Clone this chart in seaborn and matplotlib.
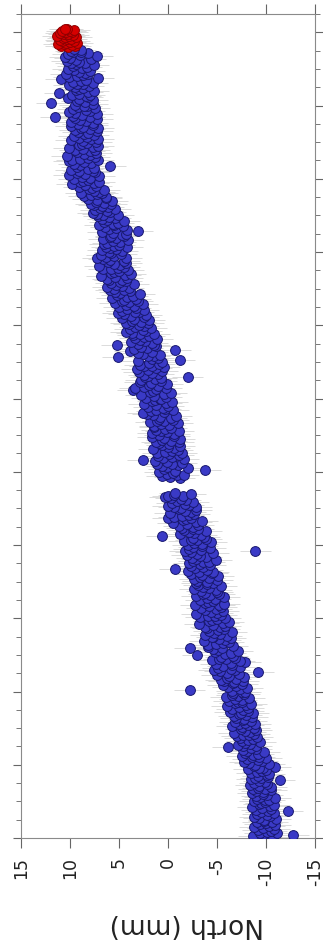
import numpy as np
import pandas as pd
import matplotlib
matplotlib.use("Agg")
import matplotlib.pyplot as plt
from matplotlib.ticker import MultipleLocator, NullFormatter
import seaborn as sns

# North component (mm); one list per time unit, 80 samples per unit
north_u0 = [-9.6, -10.7, -8.7, -12.8, -9.8, -11.1, -9.4, -10.1, -10.5, -9.2,
            -10.8, -9.7, -8.8, -10.3, -10.9, -9.4, -10.0, -9.1, -10.6, -9.8,
            -9.8, -11.0, -9.3, -8.8, -10.4, -10.1, -9.1, -10.8, -9.5, -10.2,
            -12.2, -9.0, -10.5, -9.6, -8.6, -10.4, -10.8, -9.3, -9.5, -9.9,
            -8.8, -9.9, -10.3, -9.1, -10.9, -9.4, -9.0, -10.1, -9.7, -8.6,
            -9.7, -9.0, -10.5, -8.7, -9.9, -9.2, -10.5, -9.3, -8.4, -10.1,
            -8.8, -9.9, -9.3, -11.4, -8.5, -9.5, -8.9, -10.2, -9.2, -10.1,
            -10.3, -8.5, -9.1, -9.6, -10.0, -8.2, -9.7, -9.3, -10.9, -8.8]
north_u1 = [-8.9, -10.3, -8.3, -7.8, -9.6, -9.2, -8.1, -10.0, -8.6, -9.3,
            -7.5, -8.7, -9.2, -7.9, -9.8, -8.1, -7.7, -9.0, -8.5, -6.1,
            -7.7, -9.0, -7.1, -8.4, -7.9, -9.4, -7.5, -8.2, -8.7, -7.3,
            -9.1, -7.0, -7.7, -8.3, -8.8, -6.7, -8.4, -7.9, -9.0, -7.4,
            -8.8, -7.6, -6.5, -8.2, -8.9, -7.2, -7.9, -6.8, -8.5, -7.7,
            -7.8, -6.9, -8.6, -6.7, -8.0, -7.2, -8.7, -7.4, -6.3, -8.2,
            -7.7, -6.5, -8.2, -7.2, -6.0, -8.0, -8.5, -6.8, -7.1, -7.5,
            -6.2, -7.5, -6.8, -8.3, -5.9, -7.1, -6.5, -7.8, -6.6, -7.6]
north_u2 = [-7.9, -6.5, -2.2, -7.3, -8.1, -6.1, -6.9, -5.6, -7.6, -6.6,
            -6.7, -5.7, -7.7, -5.4, -6.9, -6.0, -7.8, -6.2, -5.0, -7.2,
            -6.0, -9.2, -5.3, -4.7, -6.8, -6.4, -5.1, -7.3, -5.6, -6.5,
            -4.9, -6.4, -7.9, -7.3, -4.5, -5.9, -5.2, -6.8, -5.4, -6.6,
            -3.0, -5.8, -6.4, -4.8, -7.1, -5.1, -4.6, -2.2, -5.5, -4.1,
            -6.6, -4.1, -4.9, -5.6, -6.2, -3.7, -5.8, -5.2, -6.4, -4.6,
            -4.5, -6.0, -3.8, -5.3, -4.7, -6.5, -4.2, -5.1, -5.7, -4.0,
            -5.3, -3.8, -5.8, -4.6, -3.2, -5.6, -6.2, -4.2, -4.5, -5.0]
north_u3 = [-5.8, -3.3, -4.1, -4.8, -5.4, -2.9, -5.0, -4.4, -5.6, -3.8,
            -4.9, -3.4, -5.4, -4.2, -2.8, -5.2, -5.7, -3.8, -4.1, -4.6,
            -3.3, -4.8, -4.0, -5.7, -2.9, -4.3, -3.6, -5.2, -3.8, -5.0,
            -3.4, -4.9, -2.7, -4.2, -3.6, -5.4, -3.1, -4.0, -4.6, -2.9,
            -4.0, -3.0, -5.0, -2.7, -4.2, -3.3, -5.1, -3.5, -2.3, -4.5,
            -4.6, -3.2, -2.0, -4.0, -0.7, -2.8, -3.6, -2.3, -4.3, -3.3,
            -2.1, -3.6, -4.2, -2.6, -4.9, -2.9, -2.4, -3.9, -3.3, -1.9,
            -3.0, -4.6, -2.3, -1.7, -8.9, -3.4, -2.1, -4.3, -2.6, -3.5]
north_u4 = [-2.0, -3.5, -2.7, -4.4, -1.6, -3.0, -2.3, -3.9, -2.5, -3.7,
            0.6, -3.4, -1.2, -2.7, -2.1, -3.9, -1.6, -2.5, -3.1, -1.4,
            -2.6, -1.1, -3.1, -1.9, -0.5, -2.9, -3.5, -1.5, -1.8, -2.3,
            0.0, -0.6, -1.4, -2.1, -2.7, -0.2, -2.3, -1.7, -2.9, -1.1,
            -1.3, -2.9, -0.6, 0.0, -2.1, -1.7, -0.4, -2.6, -0.9, -1.8,
            -1.3, -0.3, 0.3, 0.0, -1.5, -0.6, -2.3, -0.7, np.nan, np.nan,
            np.nan, np.nan, np.nan, np.nan, np.nan, np.nan, np.nan, np.nan,
            np.nan, np.nan, np.nan, np.nan, np.nan,
            -1.2, -0.2, 0.6, -0.9, -1.6, 0.1, -0.5]
north_u5 = [0.9, -0.7, -3.8, 0.4, -2.0, 0.1, 0.6, -1.0, -0.4, 1.1,
            -1.4, 0.1, 1.3, 2.6, -1.6, 0.5, -0.4, 1.0, -1.1, -0.1,
            -1.4, 1.1, 0.3, -0.4, -1.0, 1.5, -0.6, 0.0, -1.2, 0.6,
            -0.1, 0.9, -1.1, 1.2, -0.3, 0.6, -1.2, 0.4, 1.6, -0.6,
            0.9, -0.6, 1.6, 0.1, 0.7, -1.1, 1.2, 0.3, -0.3, 1.4,
            1.4, -0.1, 0.7, -1.0, 1.8, 0.4, 1.1, -0.5, 0.9, -0.3,
            0.8, -0.8, 1.5, 2.1, 2.6, 0.4, 1.7, -0.5, 1.2, 0.3,
            0.5, 2.0, 0.0, 1.2, 2.5, 0.2, -0.4, 1.6, 1.3, 0.8]
north_u6 = [0.7, 2.2, 0.2, 1.4, 2.8, 0.4, -0.3, 1.8, 1.5, 3.6,
            1.2, 3.4, 0.2, 2.5, 1.0, 1.9, 0.1, 1.7, 2.9, 0.7,
            2.8, 1.3, 0.7, 2.3, -2.0, 2.0, 2.5, 1.0, 1.6, 3.0,
            0.6, 2.0, 3.2, 1.2, 0.4, 2.4, 1.6, 2.9, 0.9, 1.9,
            0.6, 3.1, -1.2, 1.6, 1.0, 5.1, 1.4, 2.0, 0.8, 2.6,
            3.1, 1.6, 3.9, -0.7, 3.5, 2.1, 2.8, 1.2, 5.2, 1.4,
            3.1, 1.6, 3.8, 2.3, 2.9, 1.1, 3.4, 2.5, 1.9, 3.6,
            2.9, 1.4, 3.7, 4.3, 2.2, 2.6, 3.9, 1.7, 3.4, 2.5]
north_u7 = [3.0, 4.0, 2.0, 4.3, 2.8, 3.7, 1.9, 3.5, 4.7, 2.5,
            3.8, 2.2, 4.5, 5.1, 3.0, 3.4, 4.7, 2.5, 4.2, 3.3,
            5.0, 3.5, 4.3, 2.6, 5.4, 4.0, 4.7, 3.1, 4.5, 3.3,
            5.7, 4.2, 3.6, 5.2, 2.9, 4.9, 5.4, 3.9, 4.5, 5.9,
            5.5, 4.0, 6.2, 4.7, 5.3, 3.5, 5.8, 4.9, 4.3, 6.0,
            4.7, 6.2, 4.2, 5.4, 6.8, 4.4, 3.8, 5.8, 5.5, 5.0,
            4.1, 6.6, 5.8, 5.1, 4.5, 7.0, 4.9, 5.5, 4.3, 6.1,
            4.5, 5.9, 6.6, 7.2, 4.3, 6.3, 5.5, 6.8, 4.8, 5.8]
north_u8 = [6.0, 4.7, 6.7, 5.3, 5.9, 4.2, 6.3, 5.5, 5.0, 6.5,
            6.2, 4.9, 5.6, 4.1, 6.6, 5.3, 5.9, 4.5, 5.8, 4.7,
            4.3, 5.6, 6.7, 3.1, 4.2, 6.0, 5.3, 6.4, 4.6, 5.5,
            7.0, 5.6, 5.1, 6.5, 4.5, 6.2, 6.7, 5.4, 6.0, 7.1,
            6.6, 5.1, 7.2, 7.7, 5.9, 6.2, 7.4, 5.4, 6.9, 6.1,
            6.7, 7.6, 5.8, 7.9, 6.5, 7.3, 5.7, 7.2, 8.2, 6.3,
            6.3, 8.6, 7.9, 7.2, 6.7, 8.9, 7.0, 7.6, 6.5, 8.1,
            7.8, 9.1, 7.3, 8.5, 9.8, 7.6, 7.0, 9.0, 8.7, 8.2]
north_u9 = [9.6, 8.0, 8.8, 7.0, 10.1, 8.5, 9.3, 7.5, 9.1, 7.7,
            9.9, 8.2, 7.6, 9.3, 5.9, 9.0, 9.6, 7.9, 8.6, 10.1,
            7.1, 9.8, 9.0, 8.2, 7.5, 10.3, 8.0, 8.6, 7.3, 9.3,
            8.0, 9.5, 7.5, 8.7, 10.1, 7.7, 7.1, 9.1, 8.8, 8.3,
            7.3, 8.7, 9.9, 7.9, 7.1, 9.1, 8.3, 9.6, 7.6, 8.6,
            8.2, 9.2, 7.2, 9.5, 8.0, 8.9, 7.1, 8.7, 9.9, 7.7,
            9.2, 7.7, 9.9, 8.4, 9.0, 7.2, 9.5, 11.5, 8.0, 9.7,
            8.8, 7.2, 9.5, 10.1, 8.0, 8.4, 9.7, 7.5, 9.2, 8.3]
north_u10 = [8.6, 9.5, 7.7, 11.9, 8.5, 9.3, 7.7, 9.1, 10.2, 8.2,
             8.4, 9.8, 8.0, 9.1, 11.1, 8.2, 7.6, 9.4, 9.1, 8.7,
             9.5, 8.1, 10.1, 8.7, 9.3, 7.7, 9.7, 8.9, 8.4, 10.9,
             7.1, 10.1, 9.3, 8.7, 8.2, 10.4, 8.5, 9.1, 8.0, 9.6,
             10.2, 8.8, 8.3, 9.7, 7.6, 9.4, 9.9, 8.5, 9.1, 10.3,
             9.4, 7.9, 10.0, 10.5, 7.2, 9.0, 10.2, 8.2, 9.7, 8.9,
             9.9, 8.9, 9.6]
# latest solutions (red)
north_recent = [10.2, 9.5, 10.9, 9.8, 10.6, 11.2, 9.3, 10.4, 10.0, 10.8,
                9.6, 11.0, 10.3, 9.9, 10.7, 9.4, 10.5, 11.3, 10.1, 9.7,
                10.6, 10.2, 11.0, 9.8, 10.4, 10.0, 10.8, 9.6, 10.3, 10.5]
north_sigma = 1.6  # mm, formal error
x_ticks = [15, 10, 5, 0, -5, -10, -15]
x_label = "North (mm)"

north_all = (north_u0 + north_u1 + north_u2 + north_u3 + north_u4 + north_u5 +
             north_u6 + north_u7 + north_u8 + north_u9 + north_u10)
time_all = np.linspace(0.0, (len(north_all) - 1) * 0.0125, len(north_all))
time_recent = np.linspace(10.80, 11.05, len(north_recent))

df = pd.DataFrame({"north": north_all, "time": time_all}).dropna()
df_r = pd.DataFrame({"north": north_recent, "time": time_recent})

sns.set_style("ticks")
plt.rcParams["font.family"] = ["DejaVu Sans"]

W, H = 323, 944
fig = plt.figure(figsize=(W / 100, H / 100), dpi=100)
ax = fig.add_axes([21 / W, 1 - 838 / H, 294 / W, 824 / H])

for d in (df, df_r):
    ax.errorbar(d["north"], d["time"], xerr=north_sigma, fmt="none",
                ecolor="#d6d6d6", elinewidth=0.6, capsize=0, zorder=1)

sns.scatterplot(data=df, x="north", y="time", ax=ax, s=50,
                color="#3a3ac6", edgecolor="#18186e", linewidth=0.7,
                zorder=3, legend=False)
sns.scatterplot(data=df_r, x="north", y="time", ax=ax, s=50,
                color="#d60000", edgecolor="#8c0000", linewidth=0.7,
                zorder=4, legend=False)

ax.set_xlim(15, -15)
ax.set_ylim(0, 11.25)
ax.set_xticks(x_ticks)
ax.set_xticklabels([str(v) for v in x_ticks], rotation=90, fontsize=12.5,
                   color="#222222")
ax.yaxis.set_major_locator(MultipleLocator(1))
ax.yaxis.set_minor_locator(MultipleLocator(0.25))
ax.yaxis.set_major_formatter(NullFormatter())
ax.set_ylabel("")
ax.set_xlabel("")
ax.tick_params(axis="x", which="major", direction="out", length=7, width=0.8,
               color="#666666", top=True, bottom=True, pad=7)
ax.tick_params(axis="y", which="major", direction="out", length=6, width=0.8,
               color="#666666", left=True, right=True)
ax.tick_params(axis="y", which="minor", direction="out", length=3.5, width=0.7,
               color="#777777", left=True, right=True)
for sp in ax.spines.values():
    sp.set_visible(True)
    sp.set_color("#8a8a8a")
    sp.set_linewidth(0.8)

ax.text(0.565, -0.1056, x_label, transform=ax.transAxes, rotation=180,
        ha="center", va="center", fontsize=19, color="#222222")

fig.savefig("out.png", dpi=100)
